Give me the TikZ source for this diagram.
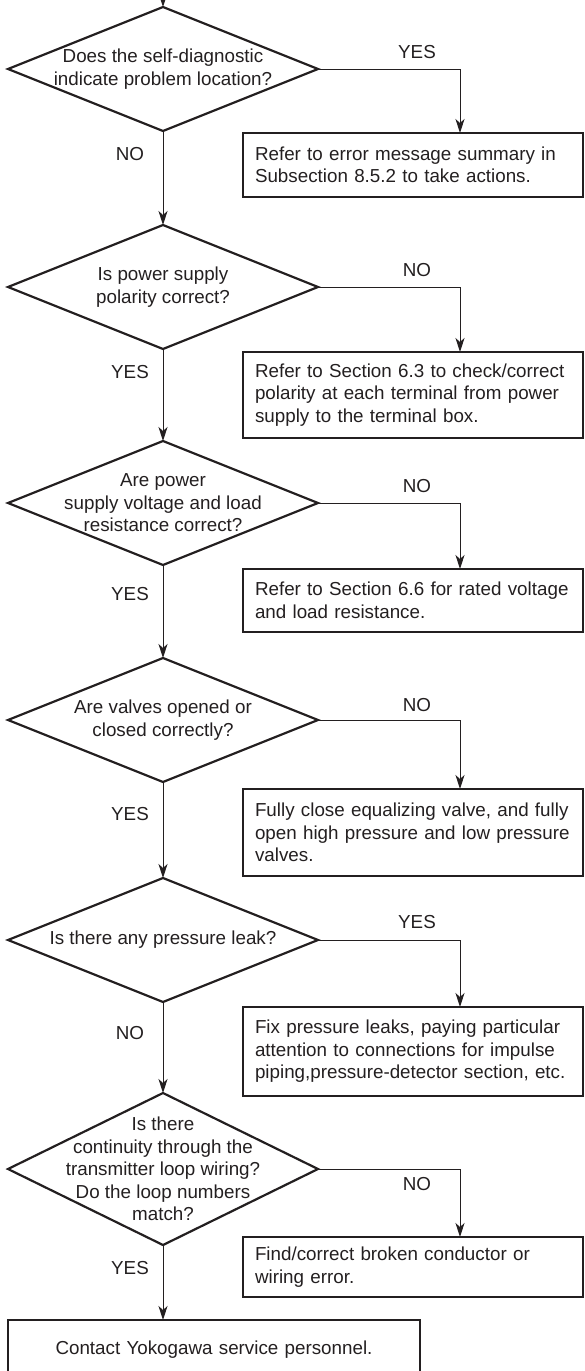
\documentclass[tikz,border=0pt]{standalone}
\usepackage{fontspec}
\setmainfont{Liberation Sans}
\usetikzlibrary{shapes.geometric,arrows.meta,calc}
\definecolor{ink}{RGB}{35,31,32}
\begin{document}
\begin{tikzpicture}[x=1pt,y=-1pt,
  txtfont/.style={font=\fontsize{18.8}{22.5}\selectfont, text=ink},
  dia/.style={diamond, draw=ink, line width=2.2pt, minimum width=310pt, minimum height=124pt, inner sep=0pt, outer sep=0pt},
  diatext/.style={txtfont, align=center, inner sep=0pt},
  box/.style={txtfont, draw=ink, line width=2.4pt, anchor=north west, outer sep=0pt,
    minimum width=340pt, text width=316pt, inner xsep=12pt, inner ysep=0pt, align=left},
  lbl/.style={txtfont, inner sep=0pt},
  arr/.style={draw=ink, line width=1pt, -{Stealth[length=14pt,width=9pt,inset=4pt]}},
]
\clip (0,0) rectangle (584,1371);
\useasboundingbox (0,0) rectangle (584,1371);

% decision 1
\coordinate (top) at (163,-30);
\node[dia] (d1) at (163,69) {};
\node[diatext] (t1) at (d1) {Does the self-diagnostic\\indicate problem location?};
\node[box, minimum height=64pt] (b1) at (243,133) {Refer to error message summary in\\Subsection 8.5.2 to take actions.};
\coordinate (a1) at ($(b1.north west)+(217,0)$);
\node[lbl] (l1y) at (417,52) {YES};
\node[lbl] (l1n) at (130,154) {NO};

% decision 2
\node[dia] (d2) at (163,287) {};
\node[diatext] (t2) at (d2) {Is power supply\\polarity correct?};
\node[box, minimum height=86pt] (b2) at (243,352) {Refer to Section 6.3 to check/correct\\polarity at each terminal from power\\supply to the terminal box.};
\coordinate (a2) at ($(b2.north west)+(217,0)$);
\node[lbl] (l2n) at (417,270) {NO};
\node[lbl] (l2y) at (130,372) {YES};

% decision 3
\node[dia] (d3) at (163,503) {};
\node[diatext] (t3) at (d3) {Are power\\supply voltage and load\\resistance correct?};
\node[box, minimum height=63pt] (b3) at (243,569) {Refer to Section 6.6 for rated voltage\\and load resistance.};
\coordinate (a3) at ($(b3.north west)+(217,0)$);
\node[lbl] (l3n) at (417,486) {NO};
\node[lbl] (l3y) at (130,594) {YES};

% decision 4
\node[dia] (d4) at (163,720) {};
\node[diatext] (t4) at (d4) {Are valves opened or\\closed correctly?};
\node[box, minimum height=87pt] (b4) at (243,789) {Fully close equalizing valve, and fully\\open high pressure and low pressure\\valves.};
\coordinate (a4) at ($(b4.north west)+(217,0)$);
\node[lbl] (l4n) at (417,705) {NO};
\node[lbl] (l4y) at (130,814) {YES};

% decision 5
\node[dia] (d5) at (163,940) {};
\node[diatext] (t5) at (d5) {Is there any pressure leak?};
\node[box, minimum height=89pt] (b5) at (243,1007) {Fix pressure leaks, paying particular\\attention to connections for impulse\\piping,pressure-detector section, etc.};
\coordinate (a5) at ($(b5.north west)+(217,0)$);
\node[lbl] (l5y) at (417,922) {YES};
\node[lbl] (l5n) at (130,1033) {NO};

% decision 6
\node[dia, minimum height=152pt] (d6) at (163,1169) {};
\node[diatext] (t6) at (d6) {Is there\\continuity through the\\transmitter loop wiring?\\Do the loop numbers\\match?};
\node[box, minimum height=60pt] (b6) at (243,1237) {Find/correct broken conductor or\\wiring error.};
\coordinate (a6) at ($(b6.north west)+(217,0)$);
\node[lbl] (l6n) at (417,1184) {NO};
\node[lbl] (l6y) at (130,1268) {YES};

% final
\node[box, minimum width=412pt, text width=388pt, minimum height=60pt, align=center] (b7) at (8,1320) {Contact Yokogawa service personnel.};

% connectors
\draw[arr] (top) -- (d1.north);
\draw[arr] (d1.east) -| (a1);
\draw[arr] (d1.south) -- (d2.north);
\draw[arr] (d2.east) -| (a2);
\draw[arr] (d2.south) -- (d3.north);
\draw[arr] (d3.east) -| (a3);
\draw[arr] (d3.south) -- (d4.north);
\draw[arr] (d4.east) -| (a4);
\draw[arr] (d4.south) -- (d5.north);
\draw[arr] (d5.east) -| (a5);
\draw[arr] (d5.south) -- (d6.north);
\draw[arr] (d6.east) -| (a6);
\draw[arr] (d6.south) -- (d6.south |- b7.north);
\end{tikzpicture}
\end{document}
